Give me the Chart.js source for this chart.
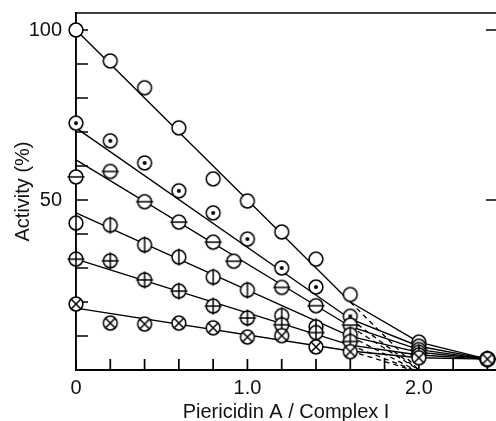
<!DOCTYPE html>
<html>
<head>
<meta charset="utf-8">
<script src="https://cdn.jsdelivr.net/npm/chart.js@4.4.1/dist/chart.umd.min.js"></script>
<style>
  html, body { margin: 0; padding: 0; background: #fff; overflow: hidden; }
  #wrap { position: relative; width: 496px; height: 421px; }
</style>
</head>
<body>
<div id="wrap"><canvas id="chart"></canvas></div>
<script>
// x positions of the measured points (molar ratio piericidin A / complex I)
const doses = [0, 0.2, 0.4, 0.6, 0.8, 1.0, 1.2, 1.4, 1.6, 2.0, 2.4];
const dosesHLine = [0, 0.2, 0.4, 0.6, 0.8, 0.92, 1.2, 1.4, 1.6, 2.0, 2.4];

// activity (%) for each marker type
const openCircle  = [100, 90.9, 83.0, 71.2, 56.2, 49.7, 40.6, 32.6, 22.2, 8.2, 3.2];
const dotCircle   = [72.6, 67.4, 60.9, 52.7, 46.2, 38.5, 30.0, 24.4, 15.8, 7.0, 3.2];
const hLineCircle = [56.8, 58.4, 49.5, 43.5, 37.6, 32.0, 24.3, 18.9, 13.2, 6.0, 3.2];
const vLineCircle = [43.2, 42.6, 36.8, 33.2, 27.3, 23.5, 16.0, 12.7, 10.4, 5.2, 3.2];
const plusCircle  = [32.6, 32.1, 26.5, 23.2, 18.8, 15.3, 13.3, 11.0, 8.4, 4.4, 3.2];
const crossCircle = [19.4, 13.8, 13.5, 13.8, 12.4, 9.7, 10.1, 6.8, 5.4, 3.6, 3.2];

// fitted lines: value at x=0 and at x=1.6, then dashed extrapolation to zero
const fitAt0   = [100, 71.2, 61.8, 46.2, 32.6, 18.2];
const fitAt16  = [20, 15.0, 12.8, 9.9, 7.3, 5.6];
const fitBreakX = 1.6;
const dashEndX = [2.0, 2.0, 2.0, 1.98, 1.97, 1.96];

// axis ticks
const xTickStep = 0.2;
const xLabelValues = [0, 1, 2];
const xLabelText = ['0', '1.0', '2.0'];
const yTickStep = 10;
const yLabelValues = [50, 100];
const rightTickValues = [50, 100];

const INK = '#000';

function makeMarker(kind) {
    const c = document.createElement('canvas');
    c.width = 24; c.height = 24;
    const g = c.getContext('2d');
    const m = 12, r = 6.9, ext = 1.6;
    g.lineWidth = 1.5;
    g.strokeStyle = INK;
    g.fillStyle = '#fff';
    g.beginPath(); g.arc(m, m, r, 0, Math.PI * 2); g.fill(); g.stroke();
    g.beginPath();
    if (kind === 'h' || kind === 'plus') { g.moveTo(m - r - ext, m); g.lineTo(m + r + ext, m); }
    if (kind === 'v' || kind === 'plus') { g.moveTo(m, m - r - ext); g.lineTo(m, m + r + ext); }
    if (kind === 'x') {
        const d = r * 0.72;
        g.moveTo(m - d, m - d); g.lineTo(m + d, m + d);
        g.moveTo(m - d, m + d); g.lineTo(m + d, m - d);
    }
    g.stroke();
    if (kind === 'dot') {
        g.fillStyle = INK;
        g.beginPath(); g.arc(m, m, 2.0, 0, Math.PI * 2); g.fill();
    }
    return c;
}

const series = [
    { xs: doses,      ys: openCircle,  marker: 'open' },
    { xs: doses,      ys: dotCircle,   marker: 'dot' },
    { xs: dosesHLine, ys: hLineCircle, marker: 'h' },
    { xs: doses,      ys: vLineCircle, marker: 'v' },
    { xs: doses,      ys: plusCircle,  marker: 'plus' },
    { xs: doses,      ys: crossCircle, marker: 'x' },
];

const datasets = [];
series.forEach((s, i) => {
    const n = s.xs.length;
    // solid fit + tail through the 2.0 and 2.4 points
    datasets.push({
        data: [
            { x: 0, y: fitAt0[i] },
            { x: fitBreakX, y: fitAt16[i] },
            { x: s.xs[n - 2], y: s.ys[n - 2] },
            { x: s.xs[n - 1], y: s.ys[n - 1] },
        ],
        showLine: true, borderColor: INK, borderWidth: 1.4,
        pointRadius: 0, order: 2, clip: false,
    });
    // dashed extrapolation
    datasets.push({
        data: [{ x: fitBreakX, y: fitAt16[i] }, { x: dashEndX[i], y: 0 }],
        showLine: true, borderColor: INK, borderWidth: 1.3, borderDash: [5, 4],
        pointRadius: 0, order: 2, clip: false,
    });
    // markers
    datasets.push({
        data: s.xs.map((x, k) => ({ x, y: s.ys[k] })),
        showLine: false, pointStyle: makeMarker(s.marker),
        pointRadius: 8, order: 1 - i * 0.01, clip: false,
    });
});

const framePlugin = {
    id: 'frame',
    beforeDatasetsDraw(chart) {
        const { ctx, chartArea: a, scales: { x, y } } = chart;
        ctx.save();
        ctx.strokeStyle = INK;
        ctx.lineWidth = 1.7;
        ctx.beginPath();
        ctx.moveTo(a.left, a.top); ctx.lineTo(a.right, a.top);
        x.ticks.forEach(t => {
            const px = x.getPixelForValue(t.value);
            ctx.moveTo(px, a.bottom); ctx.lineTo(px, a.bottom - 11);
        });
        y.ticks.forEach(t => {
            const py = y.getPixelForValue(t.value);
            ctx.moveTo(a.left, py); ctx.lineTo(a.left + 12, py);
        });
        rightTickValues.forEach(v => {
            const py = y.getPixelForValue(v);
            ctx.moveTo(a.right, py); ctx.lineTo(a.right - 10, py);
        });
        ctx.stroke();
        ctx.restore();
    }
};

const font = { family: '"Liberation Sans", Arial, Helvetica, sans-serif', size: 20 };

new Chart(document.getElementById('chart'), {
    type: 'scatter',
    data: { datasets },
    plugins: [framePlugin],
    options: {
        responsive: true,
        maintainAspectRatio: false,
        animation: false,
        events: [],
        layout: { autoPadding: false, padding: { top: 13, right: 0, left: 0, bottom: 0 } },
        plugins: { legend: { display: false }, tooltip: { enabled: false } },
        scales: {
            x: {
                type: 'linear', min: 0, max: 2.45,
                grid: { display: false, drawTicks: false },
                border: { display: true, color: INK, width: 1.9 },
                ticks: {
                    stepSize: xTickStep, includeBounds: false, autoSkip: false, maxRotation: 0,
                    padding: 6, color: '#111', font,
                    callback: (v) => {
                        const k = xLabelValues.findIndex(L => Math.abs(L - v) < 1e-6);
                        return k >= 0 ? xLabelText[k] : '';
                    }
                },
                title: { display: true, text: 'Piericidin A / Complex I', color: '#111', font, padding: { top: 0, bottom: -3 } },
                afterFit: (s) => { s.height = 51; s.paddingLeft = 0; s.paddingRight = 0; }
            },
            y: {
                min: 0, max: 105,
                grid: { display: false, drawTicks: false },
                border: { display: true, color: INK, width: 1.9 },
                ticks: {
                    stepSize: yTickStep, includeBounds: false, autoSkip: false,
                    padding: 14, color: '#111', font,
                    callback: (v) => yLabelValues.includes(v) ? String(v) : ''
                },
                title: { display: true, text: 'Activity (%)', color: '#111', font, padding: { top: 11, bottom: 0 } },
                afterFit: (s) => { s.width = 76; s.paddingTop = 0; s.paddingBottom = 0; }
            }
        }
    }
});
</script>
</body>
</html>
